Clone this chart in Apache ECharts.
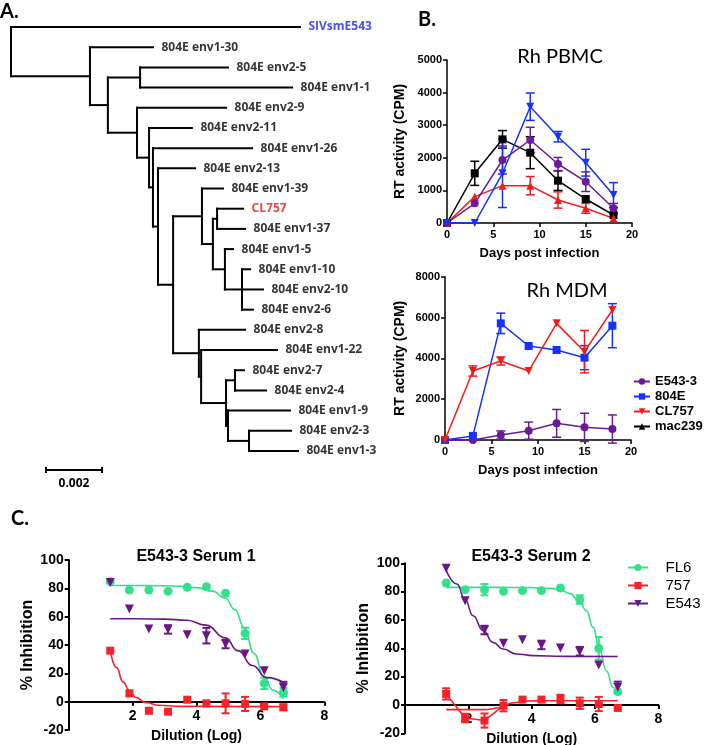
<!DOCTYPE html>
<html><head><meta charset="utf-8">
<script src="https://cdn.jsdelivr.net/npm/echarts@6/dist/echarts.min.js"></script>
<style>html,body{margin:0;padding:0;background:#fff}#c{width:708px;height:745px}</style>
</head><body><div id="c"></div><script>
// ================= DATA =================
// Panel A: phylogenetic tree (cumulative distance from root, units of 0.001 subst/site)
const N = (depth, ...children) => ({depth, children});
const L = (name, depth) => ({name, depth});
const tree = N(0,
  L('SIVsmE543', 10.32),
  N(2.82,
    L('804E env1-30', 5.07),
    N(3.46,
      N(4.61, L('804E env2-5', 7.75), L('804E env1-1', 10.04)),
      N(4.50,
        L('804E env2-9', 7.68),
        N(4.93,
          L('804E env2-11', 6.46),
          N(5.07,
            L('804E env1-26', 8.61),
            N(5.25,
              L('804E env2-13', 6.57),
              N(5.79,
                N(6.82,
                  L('804E env1-39', 7.57),
                  N(7.21,
                    N(7.36, L('CL757', 8.29), L('804E env1-37', 8.36)),
                    N(7.64,
                      L('804E env1-5', 7.93),
                      N(8.25, L('804E env1-10', 8.54), L('804E env2-10', 9.00), L('804E env2-6', 8.64))
                    )
                  )
                ),
                N(6.71,
                  L('804E env2-8', 8.36),
                  N(6.79,
                    L('804E env1-22', 9.50),
                    N(7.68,
                      N(8.00, L('804E env2-7', 8.32), L('804E env2-4', 9.11)),
                      N(7.75,
                        L('804E env1-9', 9.96),
                        N(8.50, L('804E env2-3', 10.00), L('804E env1-3', 10.25))
                      )
                    )
                  )
                )
              )
            )
          )
        )
      )
    )
  )
);
const scaleBarLength = 2;          // 0.002
const scaleBarLabel = '0.002';

// Panel B: RT activity
const days = [0, 3, 6, 9, 12, 15, 18];
const pbmcE543 = [0, 603, 1932, 2546, 1810, 1267, 450];
const pbmcE543Err = [0, 0, 430, 390, 200, 300, 150];
const pbmc804E = [0, 0, 1524, 3568, 2648, 1850, 859];
const pbmc804EErr = [0, 0, 1050, 420, 160, 410, 380];
const pbmcCL757 = [0, 808, 1145, 1145, 706, 450, 143];
const pbmcCL757Err = [0, 0, 0, 280, 250, 150, 0];
const pbmcMac239 = [0, 1524, 2566, 2157, 1298, 736, 245];
const pbmcMac239Err = [0, 370, 270, 490, 300, 0, 0];

const mdmE543 = [0, 0, 245, 457, 816, 620, 538];
const mdmE543Err = [0, 0, 200, 420, 680, 690, 690];
const mdm804E = [0, 200, 5714, 4604, 4408, 4033, 5600];
const mdm804EErr = [0, 0, 500, 0, 0, 590, 1080];
const mdmCL757 = [0, 3380, 3869, 3380, 5714, 4327, 6367];
const mdmCL757Err = [0, 250, 200, 0, 0, 1040, 0];
const mdmMac239 = [];

// Panel C: neutralization
const dilutionLog = [1.30, 1.90, 2.51, 3.11, 3.71, 4.31, 4.91, 5.52, 6.12, 6.72];
const s1FL6 = [84.7, 78.8, 78.8, 77.9, 80.7, 81.2, 76.5, 48.2, 12.9, 6.6];
const s1FL6Err = [0, 0, 0, 0, 0, 0, 0, 4, 4, 3];
const s1757 = [36, 5.9, -6.4, -7.1, 1.4, -1.2, -1.2, -1.6, -3.3, -4];
const s1757Err = [0, 0, 0, 0, 0, 0, 7, 5, 0, 2];
const s1E543 = [84.2, 65.4, 51.3, 51, 47.3, 46.6, 40.7, 33.6, 21.9, 10];
const s1E543Err = [0, 0, 0, 3, 0, 5.5, 3, 0, 0, 4];
const s1FL6Fit = [[1.3,82],[2,82],[3,81.8],[3.5,81.5],[4,80.5],[4.5,78],[4.9,73],[5.2,65],[5.5,52],[5.8,34],[6.1,18],[6.4,8],[6.72,2]];
const s1E543Fit = [[1.3,58.5],[2,58.5],[3,58.3],[3.7,57.5],[4.3,54],[4.9,45],[5.3,36],[5.75,25.5],[6.2,17],[6.72,13.5]];
const s1757Fit = [[1.3,36],[1.5,24],[1.7,14],[1.9,8],[2.1,3],[2.4,-0.5],[2.8,-2.5],[3.5,-3.3],[6.72,-3.5]];

const s2FL6 = [86.1, 81.4, 81.4, 80.2, 80.7, 80.7, 82.6, 74.4, 40, 9.4];
const s2FL6Err = [0, 0, 4, 0, 0, 0, 0, 3, 8, 0];
const s2757 = [7.8, -9.2, -11, -0.5, 3.8, 3.8, 4.2, 1.2, 0.7, -2.1];
const s2757Err = [4, 3, 5, 4, 0, 0, 3, 4, 5, 0];
const s2E543 = [96.5, 73.6, 52.9, 43.5, 46.1, 42.4, 40.2, 37.9, 28.2, 12.5];
const s2E543Err = [0, 0, 3, 0, 0, 3, 0, 3, 0, 4];
const s2FL6Fit = [[1.3,83],[2,83],[3,83],[4,82.8],[4.6,82.3],[4.9,81.2],[5.2,78.8],[5.5,73.6],[5.73,66.6],[5.94,54.8],[6.15,38.4],[6.36,24.2],[6.57,12.5],[6.72,7.8]];
const s2E543Fit = [[1.3,95],[1.64,85.4],[1.89,74.8],[2.15,63],[2.47,52.5],[2.78,44.2],[3.1,39.5],[3.52,36],[4.05,34.8],[5,34.3],[6.72,34.2]];
const s2757Fit = [[1.3,-3.3],[2.5,-3.3],[3.0,-2],[3.4,1.5],[3.8,2.8],[4.5,3],[6.72,3]];
const s2757Link = [[1.3,7.8],[1.9,-9.2],[2.51,-11],[3.11,-0.5]];

// ================= STYLE =================
const ARIAL = 'Liberation Sans, Arial, sans-serif';
const CAL = 'Lato, sans-serif';
const TREEFONT = '"Open Sans", sans-serif';
const cPurpleB = '#6a1b9a', cBlue = '#1530ff', cRedB = '#f21b1b', cBlack = '#000';
const cGreen = '#35e08d', cPurpleC = '#6a1786', cRedC = '#f5222a';
const downTri = 'path://M0,0L10,0L5,9Z';
const tipColors = {'SIVsmE543': '#2020e6', 'CL757': '#ee1111'};

// ================= TREE LAYOUT =================
let leafIdx = 0;
const segs = [], tips = [];
function layout(n) {
  if (!n.children) { n.y = leafIdx++; tips.push([n.depth, n.y, n.name]); return; }
  n.children.forEach(layout);
  const ys = n.children.map(c => c.y);
  n.y = (ys[0] + ys[ys.length - 1]) / 2;
  segs.push([n.depth, ys[0], n.depth, ys[ys.length - 1]]);
  n.children.forEach(c => segs.push([n.depth, c.y, c.depth, c.y]));
}
layout(tree);
const scaleRow = leafIdx - 1 + 0.94;

// ================= HELPERS =================
function errRender(capW, color, lw) {
  return (p, api) => {
    const x = api.value(0), y = api.value(1), e = api.value(2);
    if (!e) return null;
    const t = api.coord([x, y + e]), b = api.coord([x, y - e]), w = capW / 2;
    const st = {stroke: color, lineWidth: lw};
    return {type: 'group', children: [
      {type: 'line', shape: {x1: t[0], y1: t[1], x2: b[0], y2: b[1]}, style: st},
      {type: 'line', shape: {x1: t[0] - w, y1: t[1], x2: t[0] + w, y2: t[1]}, style: st},
      {type: 'line', shape: {x1: b[0] - w, y1: b[1], x2: b[0] + w, y2: b[1]}, style: st}
    ]};
  };
}
function errSeries(ai, xs, vals, errs, color, capW, lw) {
  return {type: 'custom', xAxisIndex: ai, yAxisIndex: ai, silent: true, z: 2,
    data: xs.map((d, i) => [d, vals[i], errs[i]]), renderItem: errRender(capW, color, lw),
    encode: {x: 0, y: 1}};
}
function lineSeries(name, ai, xs, vals, color, symbol, size) {
  return {type: 'line', name, xAxisIndex: ai, yAxisIndex: ai, data: xs.map((d, i) => [d, vals[i]]),
    symbol, symbolSize: size, showSymbol: true, lineStyle: {color, width: 1.5}, itemStyle: {color},
    clip: false, z: 3};
}
function pointSeries(name, ai, xs, vals, color, symbol, size) {
  return {type: 'scatter', name, xAxisIndex: ai, yAxisIndex: ai, data: xs.map((d, i) => [d, vals[i]]),
    symbol, symbolSize: size, itemStyle: {color, opacity: 1}, clip: false, z: 4};
}
function fitSeries(name, ai, pts, color, symbol, size) {
  return {type: 'line', name, xAxisIndex: ai, yAxisIndex: ai, data: pts, smooth: 0.5, smoothMonotone: 'x',
    symbol, symbolSize: size, showSymbol: false, lineStyle: {color, width: 1.6}, itemStyle: {color}, z: 3};
}
const plain = v => String(v);
function valAxis(gi, min, max, interval, fs, margin, lw, extra) {
  return Object.assign({type: 'value', gridIndex: gi, min, max, interval,
    axisLine: {show: true, onZero: false, lineStyle: {color: '#000', width: lw}},
    axisTick: {show: true, length: 4, lineStyle: {color: '#000', width: lw}},
    axisLabel: {color: '#000', fontFamily: ARIAL, fontWeight: 'bold', fontSize: fs, margin, formatter: plain},
    splitLine: {show: false}}, extra || {});
}

// ================= OPTION =================
const cHeight = 170, cMin = -20, cMax = 100;
const zeroLift = -cHeight * (0 - cMin) / (cMax - cMin);   // moves x axis up to the y = 0 line
const grids = [
  {left: 11, top: 27, width: 448, height: 23 * 20.19},
  {left: 447, top: 60, width: 185, height: 163},
  {left: 445, top: 276.7, width: 186, height: 163.3},
  {left: 68.7, top: 560, width: 255.6, height: cHeight},
  {left: 405, top: 563.3, width: 253.3, height: cHeight}
].map(g => Object.assign(g, {outerBoundsMode: 'none', containLabel: false}));

const nameB = {fontFamily: ARIAL, fontWeight: 'bold', fontSize: 14, color: '#000'};
const nameC = {fontFamily: ARIAL, fontWeight: 'bold', fontSize: 16, color: '#000'};
const cXLabel = {color: '#000', fontFamily: ARIAL, fontWeight: 'bold', fontSize: 14, margin: 7, formatter: v => v === 0 ? '' : String(v)};

const xAxes = [
  {type: 'value', gridIndex: 0, min: 0, max: 16, show: false},
  valAxis(1, 0, 20, 5, 11, 6, 1.5, {name: 'Days post infection', nameLocation: 'middle', nameGap: 24, nameTextStyle: Object.assign({}, nameB, {fontSize: 13})}),
  valAxis(2, 0, 20, 5, 11, 6, 1.5, {name: 'Days post infection', nameLocation: 'middle', nameGap: 24, nameTextStyle: Object.assign({}, nameB, {fontSize: 13})}),
  valAxis(3, 0, 8, 2, 14, 7, 2, {name: 'Dilution (Log)', nameLocation: 'middle', nameGap: 27, offset: zeroLift,
    nameTextStyle: Object.assign({}, nameC, {fontSize: 14}), axisLabel: cXLabel}),
  valAxis(4, 0, 8, 2, 14, 7, 2, {name: 'Dilution (Log)', nameLocation: 'middle', nameGap: 27, offset: zeroLift,
    nameTextStyle: Object.assign({}, nameC, {fontSize: 14}), axisLabel: cXLabel})
];
const yAxes = [
  {type: 'value', gridIndex: 0, min: 0, max: 23, inverse: true, show: false},
  valAxis(1, 0, 5000, 1000, 11, 5, 1.5, {name: 'RT activity (CPM)', nameLocation: 'middle', nameGap: 40, nameTextStyle: nameB}),
  valAxis(2, 0, 8000, 2000, 11, 5, 1.5, {name: 'RT activity (CPM)', nameLocation: 'middle', nameGap: 38, nameTextStyle: nameB}),
  valAxis(3, cMin, cMax, 20, 14, 5, 2, {name: '% Inhibition', nameLocation: 'middle', nameGap: 33, nameTextStyle: nameC}),
  valAxis(4, cMin, cMax, 20, 14, 5, 2, {name: '% Inhibition', nameLocation: 'middle', nameGap: 33, nameTextStyle: nameC})
];

const series = [];
// --- tree ---
series.push({type: 'custom', xAxisIndex: 0, yAxisIndex: 0, silent: true, clip: false, data: segs,
  encode: {x: [0, 2], y: [1, 3]},
  renderItem: (p, api) => {
    const a = api.coord([api.value(0), api.value(1)]), b = api.coord([api.value(2), api.value(3)]);
    return {type: 'line', shape: {x1: a[0], y1: a[1], x2: b[0], y2: b[1]},
      style: {stroke: '#000', lineWidth: 2, lineCap: 'square'}};
  }});
const tipLabel = {show: true, position: 'right', distance: 8, formatter: '{b}', fontFamily: TREEFONT, fontWeight: 'bold', fontSize: 12};
series.push({type: 'scatter', xAxisIndex: 0, yAxisIndex: 0, silent: true, symbolSize: 1,
  itemStyle: {color: 'rgba(0,0,0,0)'},
  data: tips.map(t => ({value: [t[0], t[1]], name: t[2], label: Object.assign({}, tipLabel, {color: tipColors[t[2]] || '#000'})})),
  label: tipLabel});
// scale bar
series.push({type: 'custom', xAxisIndex: 0, yAxisIndex: 0, silent: true, clip: false,
  data: [[1.25, scaleRow, scaleBarLength]], encode: {x: 0, y: 1},
  renderItem: (p, api) => {
    const a = api.coord([api.value(0), api.value(1)]), b = api.coord([api.value(0) + api.value(2), api.value(1)]);
    const st = {stroke: '#000', lineWidth: 2};
    return {type: 'group', children: [
      {type: 'line', shape: {x1: a[0], y1: a[1], x2: b[0], y2: b[1]}, style: st},
      {type: 'line', shape: {x1: a[0], y1: a[1] - 3, x2: a[0], y2: a[1] + 3}, style: st},
      {type: 'line', shape: {x1: b[0], y1: b[1] - 3, x2: b[0], y2: b[1] + 3}, style: st},
      {type: 'text', style: {x: (a[0] + b[0]) / 2, y: a[1] + 8, text: scaleBarLabel, align: 'center', verticalAlign: 'top',
        font: 'bold 12px "Open Sans", sans-serif', fill: '#000'}}
    ]};
  }});

// --- B top: PBMC ---
series.push(errSeries(1, days, pbmcMac239, pbmcMac239Err, cBlack, 9, 1.5));
series.push(errSeries(1, days, pbmcCL757, pbmcCL757Err, cRedB, 9, 1.5));
series.push(errSeries(1, days, pbmcE543, pbmcE543Err, cPurpleB, 9, 1.5));
series.push(errSeries(1, days, pbmc804E, pbmc804EErr, cBlue, 9, 1.5));
series.push(lineSeries('PBMC mac239', 1, days, pbmcMac239, cBlack, 'rect', 8));
series.push(lineSeries('PBMC CL757', 1, days, pbmcCL757, cRedB, 'triangle', 8));
series.push(lineSeries('PBMC E543-3', 1, days, pbmcE543, cPurpleB, 'circle', 8));
series.push(lineSeries('PBMC 804E', 1, days, pbmc804E, cBlue, downTri, 8));

// --- B bottom: MDM ---
series.push(errSeries(2, days, mdmE543, mdmE543Err, cPurpleB, 9, 1.5));
series.push(errSeries(2, days, mdm804E, mdm804EErr, cBlue, 9, 1.5));
series.push(errSeries(2, days, mdmCL757, mdmCL757Err, cRedB, 9, 1.5));
series.push(lineSeries('E543-3', 2, days, mdmE543, cPurpleB, 'circle', 8));
series.push(lineSeries('804E', 2, days, mdm804E, cBlue, 'rect', 8));
series.push(lineSeries('CL757', 2, days, mdmCL757, cRedB, downTri, 8));
series.push(Object.assign(lineSeries('mac239', 2, days, mdmMac239, cBlack, 'triangle', 6), {data: mdmMac239}));

// --- C left: Serum 1 ---
series.push(fitSeries('FL6', 3, s1FL6Fit, cGreen, 'circle', 9));
series.push(fitSeries('757', 3, s1757Fit, cRedC, 'rect', 8));
series.push(fitSeries('E543', 3, s1E543Fit, cPurpleC, downTri, 9));
series.push(errSeries(3, dilutionLog, s1FL6, s1FL6Err, cGreen, 8, 2));
series.push(errSeries(3, dilutionLog, s1757, s1757Err, cRedC, 8, 2));
series.push(errSeries(3, dilutionLog, s1E543, s1E543Err, cPurpleC, 8, 2));
series.push(pointSeries('s1 FL6 pts', 3, dilutionLog, s1FL6, cGreen, 'circle', 9));
series.push(pointSeries('s1 757 pts', 3, dilutionLog, s1757, cRedC, 'rect', 8));
series.push(pointSeries('s1 E543 pts', 3, dilutionLog, s1E543, cPurpleC, downTri, 9));

// --- C right: Serum 2 ---
series.push(fitSeries('FL6', 4, s2FL6Fit, cGreen, 'circle', 9));
series.push(fitSeries('757', 4, s2757Fit, cRedC, 'rect', 8));
series.push(Object.assign(fitSeries('s2 757 link', 4, s2757Link, cRedC, 'none', 0), {smooth: false}));
series.push(fitSeries('E543', 4, s2E543Fit, cPurpleC, downTri, 9));
series.push(errSeries(4, dilutionLog, s2FL6, s2FL6Err, cGreen, 8, 2));
series.push(errSeries(4, dilutionLog, s2757, s2757Err, cRedC, 8, 2));
series.push(errSeries(4, dilutionLog, s2E543, s2E543Err, cPurpleC, 8, 2));
series.push(pointSeries('s2 FL6 pts', 4, dilutionLog, s2FL6, cGreen, 'circle', 9));
series.push(pointSeries('s2 757 pts', 4, dilutionLog, s2757, cRedC, 'rect', 8));
series.push(pointSeries('s2 E543 pts', 4, dilutionLog, s2E543, cPurpleC, downTri, 9));

const txt = (text, x, y, font, align, fill) => ({type: 'text', x, y, silent: true,
  style: {text, font, fill: fill || '#000', align: align || 'left', verticalAlign: 'middle'}});

const option = {
  animation: false,
  backgroundColor: '#fff',
  grid: grids,
  xAxis: xAxes,
  yAxis: yAxes,
  legend: [
    {data: ['E543-3', '804E', 'CL757', 'mac239'], orient: 'vertical', left: 633, top: 375, padding: 0,
      itemWidth: 16, itemHeight: 8, itemGap: 2, selectedMode: false,
      textStyle: {fontFamily: ARIAL, fontWeight: 'bold', fontSize: 13, color: '#000'}},
    {data: ['FL6', '757', 'E543'], orient: 'vertical', left: 627, top: 560, padding: 0,
      itemWidth: 20, itemHeight: 9, itemGap: 3, selectedMode: false,
      formatter: name => '   ' + name,
      textStyle: {fontFamily: ARIAL, fontSize: 15, color: '#000'}}
  ],
  graphic: [
    txt('A.', 0, 12, 'bold 20px ' + CAL),
    txt('B.', 418, 20, 'bold 20px ' + CAL),
    txt('C.', 11, 519, 'bold 20px ' + CAL),
    txt('Rh PBMC', 560, 57, '20px ' + CAL, 'center'),
    txt('Rh MDM', 567, 291, '20px ' + CAL, 'center'),
    txt('E543-3 Serum 1', 196, 557, 'bold 16px ' + ARIAL, 'center'),
    txt('E543-3 Serum 2', 531, 557, 'bold 16px ' + ARIAL, 'center')
  ],
  series
};
const chart = echarts.init(document.getElementById('c'), null, {renderer: 'canvas'});
chart.setOption(option);
</script></body></html>
